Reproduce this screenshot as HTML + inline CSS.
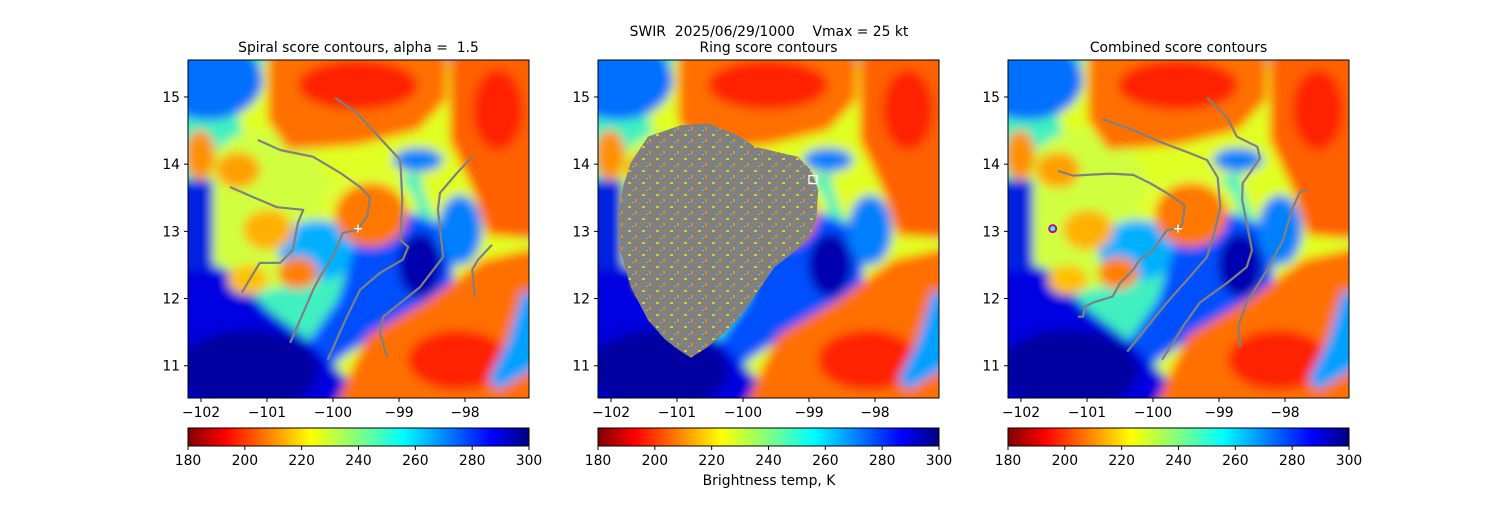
<!DOCTYPE html>
<html><head><meta charset="utf-8"><style>
body{margin:0;background:#fff;width:1500px;height:500px;overflow:hidden}
svg text{font-family:"DejaVu Sans","Liberation Sans",sans-serif;fill:#000;white-space:pre}
</style></head><body>
<svg id="fig" width="1500" height="500" viewBox="0 0 1500 500" xmlns="http://www.w3.org/2000/svg">
<defs>
<filter id="bl" x="-10%" y="-10%" width="120%" height="120%"><feGaussianBlur stdDeviation="5"/></filter>
<linearGradient id="jet" x1="0" x2="1" y1="0" y2="0">
<stop offset="0" stop-color="#800000"/><stop offset="0.11" stop-color="#ff0000"/><stop offset="0.36" stop-color="#ffff00"/>
<stop offset="0.5" stop-color="#80ff80"/><stop offset="0.63" stop-color="#00ffff"/><stop offset="0.89" stop-color="#0000ff"/><stop offset="1" stop-color="#000080"/>
</linearGradient>
<clipPath id="pc"><rect x="0" y="0" width="341" height="338"/></clipPath>
<pattern id="speck" width="14" height="12" patternUnits="userSpaceOnUse">
<rect x="2" y="2" width="3" height="2" fill="#f0e000"/><rect x="9" y="7" width="2" height="3" fill="#ff9000"/><rect x="6" y="10" width="2" height="1" fill="#40e0ff"/>
</pattern>
<g id="img">
<g filter="url(#bl)">
<rect x="-30" y="-30" width="401" height="398" fill="#40f0c0"/>
<ellipse cx="165" cy="50" rx="115" ry="75" fill="#e0ff20"/>
<ellipse cx="300" cy="90" rx="70" ry="105" fill="#e0ff20"/>
<ellipse cx="75" cy="150" rx="70" ry="80" fill="#d0ff40"/>
<ellipse cx="180" cy="155" rx="50" ry="45" fill="#e0ff30"/>
<polygon points="120,360 170,265 235,228 290,190 361,175 361,360" fill="#e0ff20"/>
<ellipse cx="20" cy="20" rx="55" ry="40" fill="#0070ff"/>
<ellipse cx="130" cy="190" rx="40" ry="30" fill="#00b0ff"/>
<polygon points="175,160 215,150 265,170 265,230 210,260 150,300 120,320 115,290 150,240" fill="#0050ff"/>
<ellipse cx="232" cy="205" rx="22" ry="32" fill="#0000b0"/>
<polygon points="-20,190 40,210 80,250 120,280 160,320 175,360 -20,360" fill="#0000e0"/>
<ellipse cx="60" cy="310" rx="70" ry="40" fill="#0000a0"/>
<rect x="-20" y="120" width="45" height="90" fill="#0020e0"/>
<ellipse cx="230" cy="100" rx="25" ry="12" fill="#0080ff"/>
<ellipse cx="272" cy="170" rx="22" ry="35" fill="#0080ff"/>
<polygon points="80,-20 260,-20 258,40 230,70 170,85 100,90 80,60" fill="#ff7000"/>
<ellipse cx="170" cy="25" rx="60" ry="25" fill="#ff2000"/>
<polygon points="262,-20 361,-20 361,180 300,175 285,130 262,80" fill="#ff6000"/>
<ellipse cx="310" cy="50" rx="25" ry="40" fill="#ff2000"/>
<ellipse cx="183" cy="155" rx="36" ry="32" fill="#ff7800"/>
<polygon points="140,360 180,275 240,240 295,200 361,185 361,360" fill="#ff7000"/>
<ellipse cx="270" cy="300" rx="50" ry="30" fill="#ff2000"/>
<ellipse cx="50" cy="110" rx="22" ry="18" fill="#ffa000"/>
<ellipse cx="12" cy="95" rx="15" ry="25" fill="#ff9000"/>
<ellipse cx="80" cy="170" rx="25" ry="20" fill="#ffb000"/>
<ellipse cx="110" cy="213" rx="20" ry="16" fill="#ff8000"/>
<ellipse cx="60" cy="220" rx="20" ry="15" fill="#ffc000"/>
<polygon points="335,230 361,240 361,300 310,330 300,320 320,280" fill="#00a0ff"/>
</g>
</g>
</defs>
</svg>
<script>
const panelX=[188,598,1008], panelY=60, PW=341, PH=338;
const lonMin=-102.197, lonMax=-97.03, latMin=10.52, latMax=15.55;
const xTicks=[-102,-101,-100,-99,-98];
const yTicks=[11,12,13,14,15];
const cbTicks=[180,200,220,240,260,280,300];
const cbMin=180, cbMax=300;
const titles=["Spiral score contours, alpha =  1.5","Ring score contours","Combined score contours"];
const spiralLon=[[-99.97,-99.64,-99.29,-98.98,-98.95,-98.98,-98.86,-98.94,-99.29,-99.59,-99.79,-100.08],
[-101.14,-100.80,-100.30,-99.89,-99.59,-99.44,-99.48,-99.64,-99.85,-100.00,-100.20,-100.30,-100.65],
[-101.56,-101.21,-100.85,-100.45,-100.53,-100.61,-100.80,-101.11,-101.38],
[-97.89,-98.12,-98.38,-98.41,-98.33,-98.68,-99.24,-99.29,-99.18],
[-97.59,-97.80,-97.89,-97.85]];
const spiralLat=[[14.99,14.76,14.39,14.06,13.47,12.87,12.77,12.58,12.38,12.13,11.73,11.09],
[14.36,14.21,14.11,13.87,13.66,13.51,13.22,13.02,12.98,12.62,12.32,12.13,11.34],
[13.66,13.51,13.36,13.32,13.13,12.72,12.53,12.53,12.09],
[14.11,13.87,13.57,13.32,12.62,12.17,11.73,11.49,11.12],
[12.80,12.58,12.43,12.03]];
const combLon=[[-99.18,-98.88,-98.73,-98.42,-98.38,-98.53,-98.64,-98.65,-98.58,-98.50,-98.58,-98.88,-99.29,-99.55,-99.86],
[-100.77,-100.30,-99.89,-99.48,-99.18,-99.02,-98.98,-99.06,-99.18,-99.48,-99.79,-100.39],
[-101.44,-101.21,-100.65,-100.30,-100.05,-99.79,-99.52,-99.55,-99.59,-99.79,-100.00,-100.20,-100.30,-100.50,-100.61,-100.91,-101.03,-101.06,-101.14],
[-97.67,-97.77,-97.88,-98.03,-98.27,-98.58,-98.71,-98.68]];
const combLat=[[14.99,14.70,14.41,14.26,14.09,13.87,13.72,13.47,13.13,12.72,12.47,12.23,11.94,11.58,11.09],
[14.67,14.51,14.33,14.18,14.06,13.80,13.36,13.02,12.62,12.28,11.94,11.21],
[13.90,13.83,13.86,13.84,13.72,13.57,13.39,13.13,13.05,13.02,12.72,12.58,12.43,12.23,12.03,11.94,11.88,11.73,11.73],
[13.60,13.59,13.36,12.87,12.43,11.94,11.58,11.28]];
const ringLon=[-101.44,-100.94,-100.53,-100.08,-99.82,-99.47,-99.17,-98.97,-98.86,-98.89,-99.02,-99.32,-99.52,-99.73,-99.97,-100.23,-100.53,-100.79,-100.98,-101.18,-101.44,-101.70,-101.86,-101.89,-101.82,-101.70];
const ringLat=[14.41,14.58,14.61,14.43,14.26,14.18,14.11,13.91,13.62,13.17,12.87,12.62,12.47,12.17,11.83,11.54,11.28,11.12,11.24,11.39,11.68,12.17,12.72,13.22,13.66,14.02];
const centerLon=-99.62, centerLat=13.04;
const ringMarkLon=-98.94, ringMarkLat=13.77;
const combMarkLon=-101.52, combMarkLat=13.04;

const NS="http://www.w3.org/2000/svg", fig=document.getElementById('fig');
const FS=13.9;
function mk(tag,attrs,parent){const e=document.createElementNS(NS,tag);for(const k in attrs)e.setAttribute(k,attrs[k]);(parent||fig).appendChild(e);return e;}
const sx=lon=>(lon-lonMin)/(lonMax-lonMin)*PW;
const sy=lat=>(latMax-lat)/(latMax-latMin)*PH;
const cx=v=>(v-cbMin)/(cbMax-cbMin)*PW;

function drawLines(g,lons,lats){
  lons.forEach((ln,i)=>{
    const pts=ln.map((v,j)=>sx(v).toFixed(1)+','+sy(lats[i][j]).toFixed(1)).join(' ');
    const p=mk('polyline',{points:pts,fill:'none',stroke:'#808080','stroke-width':2.2,'stroke-linejoin':'round'},g);
    
    
  });
}
function plus(g,lon,lat){
  const x=sx(lon),y=sy(lat);
  const p=mk('path',{d:`M${x-4},${y}H${x+4}M${x},${y-4}V${y+4}`,stroke:'#fff','stroke-width':1.3},g);
  
  
}

panelX.forEach((px,i)=>{
  const g=mk('g',{transform:`translate(${px},${panelY})`});
  
  
  const inner=mk('g',{'clip-path':'url(#pc)'},g);
  const u=mk('use',{href:'#img'},inner);
  
  
  if(i===0){drawLines(inner,spiralLon,spiralLat);plus(inner,centerLon,centerLat);}
  if(i===1){
    const pts=ringLon.map((v,j)=>sx(v).toFixed(1)+','+sy(ringLat[j]).toFixed(1)).join(' ');
    const b=mk('polygon',{points:pts,fill:'#808080'},inner);
    
    
    const b2=mk('polygon',{points:pts,fill:'url(#speck)',opacity:0.8},inner);
    
    
    const s=mk('rect',{x:sx(ringMarkLon)-4,y:sy(ringMarkLat)-4,width:8,height:8,fill:'none',stroke:'#fff','stroke-width':1.3},inner);
    
    
  }
  if(i===2){
    drawLines(inner,combLon,combLat);plus(inner,centerLon,centerLat);
    const c=mk('circle',{cx:sx(combMarkLon),cy:sy(combMarkLat),r:3.5,fill:'#40ffb0',stroke:'#c000c0','stroke-width':2},inner);
    
    
  }
  const fr=mk('rect',{x:0,y:0,width:PW,height:PH,fill:'none',stroke:'#000','stroke-width':1},g);
  
  
  xTicks.forEach(t=>{
    const x=sx(t);
    mk('line',{x1:x,x2:x,y1:PH,y2:PH+4,stroke:'#000'},g);
    const tx=mk('text',{x:x,y:PH+19,'font-size':FS,'text-anchor':'middle'},g);
    tx.textContent='\u2212'+Math.abs(t);
    
    
  });
  yTicks.forEach(t=>{
    const y=sy(t);
    mk('line',{x1:-4,x2:0,y1:y,y2:y,stroke:'#000'},g);
    const ty=mk('text',{x:-8,y:y+5,'font-size':FS,'text-anchor':'end'},g);
    ty.textContent=t;
    
    
  });
  const tt=mk('text',{x:PW/2,y:-8,'font-size':FS,'text-anchor':'middle'},g);
  tt.textContent=titles[i];
  
  
  const cb=mk('g',{transform:`translate(0,${428-panelY})`},g);
  
  
  mk('rect',{x:0,y:0,width:PW,height:18,fill:'url(#jet)',stroke:'#000','stroke-width':1},cb);
  cbTicks.forEach(v=>{
    const x=cx(v);
    mk('line',{x1:x,x2:x,y1:18,y2:22,stroke:'#000'},cb);
    const t=mk('text',{x:x,y:37,'font-size':FS,'text-anchor':'middle'},cb);
    t.textContent=v;
    
    
  });
});
const sup=mk('text',{x:769,y:36,'font-size':FS,'text-anchor':'middle'});
sup.textContent='SWIR  2025/06/29/1000    Vmax = 25 kt';


const cbl=mk('text',{x:769,y:485,'font-size':FS,'text-anchor':'middle'});
cbl.textContent='Brightness temp, K';


</script>
</body></html>
